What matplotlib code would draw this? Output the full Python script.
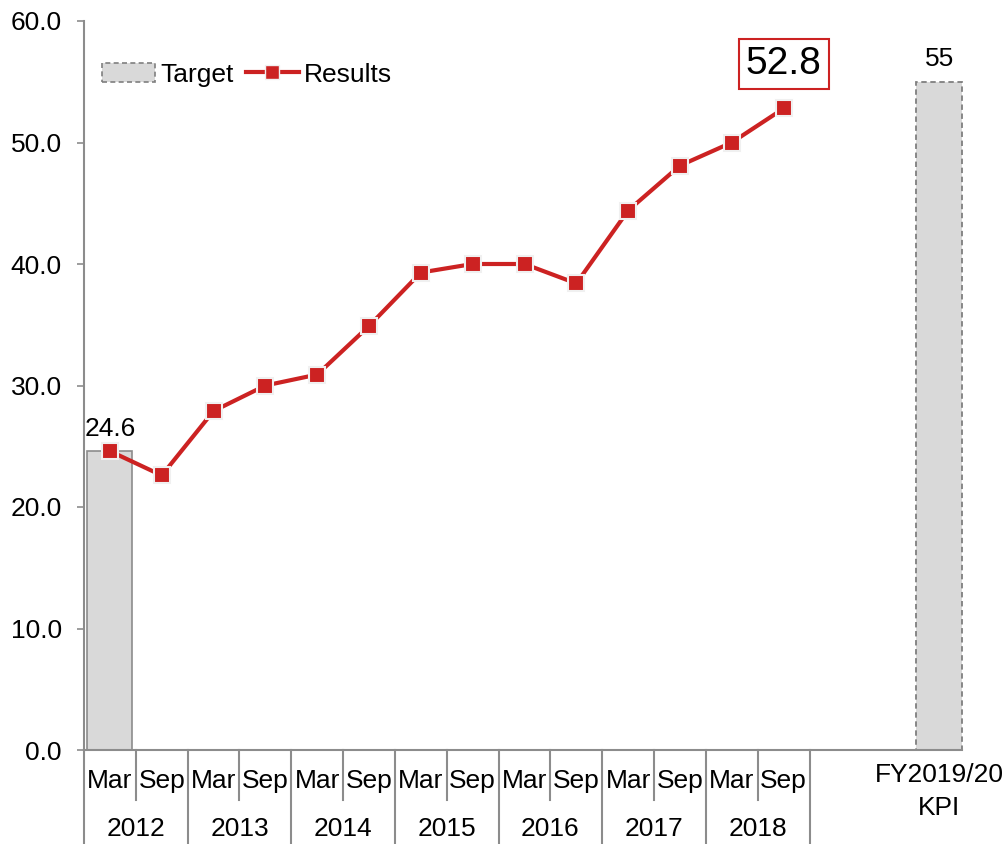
import matplotlib
matplotlib.use("Agg")
import matplotlib.pyplot as plt
import matplotlib.transforms as mtransforms
from matplotlib.lines import Line2D
from matplotlib.patches import Patch

plt.rcParams['font.family'] = ['Liberation Sans', 'DejaVu Sans']

# Data
years = ['2012', '2013', '2014', '2015', '2016', '2017', '2018']
halves = ['Mar', 'Sep']
results = [24.6, 22.6, 27.9, 30.0, 30.9, 34.9, 39.3, 40.0, 40.0, 38.4, 44.4, 48.1, 50.0, 52.8]
target_start = 24.6
kpi_value = 55
kpi_label = ['FY2019/20', 'KPI']
yticks = [0, 10, 20, 30, 40, 50, 60]

RED = '#CC2222'
GREY_FILL = '#D9D9D9'
AXIS_GREY = '#8C8C8C'
FS = 19

W, H = 1006, 844
fig = plt.figure(figsize=(W / 100, H / 100), dpi=100)
x0, x1 = 84, 965
y0, y1 = 750, 21
ax = fig.add_axes([x0 / W, (H - y0) / H, (x1 - x0) / W, (y0 - y1) / H])

n_slots = 17
ax.set_xlim(-0.5, n_slots - 0.5)
ax.set_ylim(0, 60)

kpi_pos = 16
res_x = list(range(len(results)))

# Bars: starting target and KPI target
ax.bar([0], [target_start], width=0.87, color=GREY_FILL, edgecolor=AXIS_GREY, linewidth=1.2, zorder=2)
ax.bar([kpi_pos], [kpi_value], width=0.89, color=GREY_FILL, edgecolor='#7F7F7F',
       linewidth=1.3, linestyle=(0, (3, 2)), zorder=2)

# Results line
ax.plot(res_x, results, color=RED, linewidth=3, marker='s', markersize=12,
        markerfacecolor=RED, markeredgecolor='#F0F0F0', markeredgewidth=1.5, zorder=3)

# Value labels
ax.text(0, target_start + 0.8, f'{target_start}', ha='center', va='bottom', fontsize=FS, color='black')
ax.text(kpi_pos, kpi_value + 0.9, f'{kpi_value}', ha='center', va='bottom', fontsize=FS, color='black')
ax.text(res_x[-1], results[-1] + 2.2, f'{results[-1]}', ha='center', va='bottom', fontsize=28,
        color='black', bbox=dict(boxstyle='square,pad=0.18', facecolor='white', edgecolor=RED, linewidth=1.5))

# Axes styling
for s in ['top', 'right', 'bottom']:
    ax.spines[s].set_visible(False)
ax.spines['left'].set_color(AXIS_GREY)
ax.spines['left'].set_linewidth(1.5)
ax.set_yticks(yticks)
ax.set_yticklabels([f'{v:.1f}' for v in yticks], fontsize=FS)
ax.tick_params(axis='y', direction='out', length=5, width=1.2, color=AXIS_GREY, pad=11)
ax.set_xticks([])

# Horizontal base line
ax.plot([-0.5, n_slots - 0.5 - 0.05], [0, 0], color=AXIS_GREY, linewidth=1.5, clip_on=False, zorder=4)

# Two-level category labels below the axis
trans = mtransforms.blended_transform_factory(ax.transData, ax.transAxes)
ax_h = y0 - y1
def yfrac(py):
    return (y0 - py) / ax_h

for i in range(len(years) * 2 + 1):
    xb = i - 0.5
    bottom = 844 if i % 2 == 0 else 800
    ax.add_line(Line2D([xb, xb], [0, yfrac(bottom)], transform=trans, color=AXIS_GREY,
                       linewidth=1.5, clip_on=False))

for i, x in enumerate(res_x):
    ax.text(x, yfrac(781), halves[i % 2], transform=trans, ha='center', va='center', fontsize=FS)
for j, yr in enumerate(years):
    ax.text(2 * j + 0.5, yfrac(829), yr, transform=trans, ha='center', va='center', fontsize=FS)

ax.text(kpi_pos, yfrac(775), kpi_label[0], transform=trans, ha='center', va='center', fontsize=FS)
ax.text(kpi_pos, yfrac(808), kpi_label[1], transform=trans, ha='center', va='center', fontsize=FS)

# Legend
handles = [
    Patch(facecolor=GREY_FILL, edgecolor='#7F7F7F', linestyle=(0, (3, 2)), linewidth=1.2, label='Target'),
    Line2D([0], [0], color=RED, linewidth=3, marker='s', markersize=10,
           markerfacecolor=RED, markeredgecolor='#F0F0F0', label='Results'),
]
ax.legend(handles=handles, loc='upper left', bbox_to_anchor=(0.0, 0.968), ncol=2, frameon=False,
          fontsize=FS, handlelength=2.0, handleheight=0.75, handletextpad=0.2, columnspacing=0.45,
          borderaxespad=0.3)

fig.savefig('out.png', dpi=100)
